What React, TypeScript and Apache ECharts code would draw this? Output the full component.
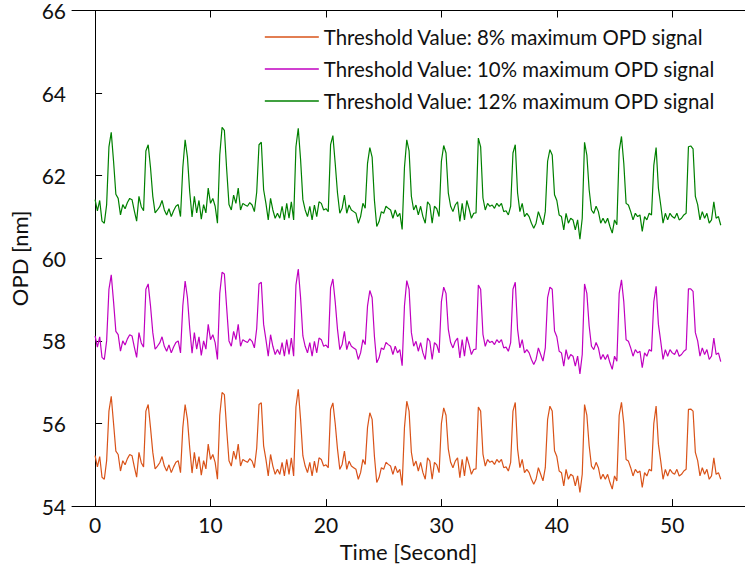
import React, { useEffect, useRef } from "react";
import * as echarts from "echarts";

const TIME_START = 0;
const TIME_STEP = 0.2;

const X_TICKS = [0, 10, 20, 30, 40, 50];
const Y_TICKS = [54, 56, 58, 60, 62, 64, 66];

const SERIES_NAMES = [
  "Threshold Value: 8% maximum OPD signal",
  "Threshold Value: 10% maximum OPD signal",
  "Threshold Value: 12% maximum OPD signal",
];
const COLORS = ["#D95319", "#C000C0", "#008000"];

const OPD_8 = [
  55.22, 54.95, 55.2, 54.7, 54.65,
  55.1, 56.3, 56.66, 56.0, 55.33,
  55.25, 54.85, 55.1, 55.0, 55.15,
  55.25, 55.22, 54.95, 54.7, 55.3,
  55.05, 54.95, 56.3, 56.46, 55.9,
  55.3, 54.9, 54.97, 55.05, 55.2,
  54.97, 54.85, 55.0, 54.81, 54.95,
  55.06, 55.1, 54.81, 55.9, 56.46,
  56.1, 55.4, 54.8, 55.3, 54.9,
  55.2, 54.75, 55.1, 54.9, 55.5,
  55.13, 55.25, 55.06, 54.65, 56.2,
  56.75, 56.7, 55.85, 55.1, 54.97,
  55.33, 55.13, 55.5, 54.97, 55.13,
  55.09, 55.06, 55.15, 55.09, 54.93,
  55.4, 56.46, 56.5, 55.46, 55.13,
  54.73, 55.25, 54.97, 54.77, 54.89,
  54.77, 55.06, 54.73, 55.13, 54.77,
  55.17, 54.73, 56.4, 56.83, 56.1,
  55.22, 54.97, 54.81, 55.06, 54.73,
  55.09, 54.81, 55.17, 55.13, 54.97,
  55.0, 54.93, 56.34, 56.5, 56.0,
  55.38, 54.89, 55.01, 55.33, 54.89,
  55.09, 54.97, 54.93, 54.89, 54.65,
  54.81, 55.13, 55.01, 55.9, 56.26,
  56.1, 55.2, 54.57, 54.69, 54.93,
  54.89, 55.06, 55.01, 54.97, 54.77,
  54.97, 54.81, 54.89, 54.5, 55.9,
  56.54, 56.3, 55.3, 54.97, 55.09,
  54.85, 55.06, 54.81, 54.65, 55.17,
  55.09, 54.65, 55.06, 55.0, 54.81,
  56.0, 56.38, 56.2, 55.38, 55.06,
  54.93, 55.09, 55.17, 54.69, 55.13,
  54.73, 55.2, 55.0, 54.77, 54.89,
  54.9, 56.4, 56.3, 55.26, 54.97,
  55.13, 55.06, 55.09, 55.01, 55.13,
  55.06, 55.13, 54.93, 54.95, 54.85,
  55.06, 56.3, 56.51, 55.38, 54.93,
  55.13, 54.81, 54.89, 54.81, 54.65,
  54.53, 54.65, 54.93, 54.77, 54.61,
  54.93, 56.1, 56.42, 56.3, 55.34,
  55.2, 54.85, 54.81, 54.49, 54.89,
  54.65, 54.77, 54.73, 54.49, 54.73,
  54.33, 54.77, 56.46, 56.2, 55.46,
  54.97, 54.89, 55.06, 54.93, 54.65,
  54.77, 54.65, 54.77, 54.57, 54.41,
  54.73, 54.61, 56.2, 56.51, 56.0,
  55.13, 55.09, 54.93, 54.73, 54.89,
  54.81, 54.85, 54.45, 54.81, 54.73,
  54.89, 54.85, 56.0, 56.42, 55.5,
  55.09, 54.65, 54.89, 54.73, 54.89,
  54.81, 54.77, 54.89, 54.73, 54.77,
  54.85, 54.89, 56.34, 56.35, 56.3,
  55.3, 55.1, 54.73, 54.93, 54.77,
  54.89, 54.65, 54.73, 55.17, 54.77,
  54.81, 54.65,
];

const OPD_10 = [
  58.12, 57.85, 58.1, 57.6, 57.55,
  58.0, 59.25, 59.6, 58.95, 58.23,
  58.15, 57.75, 58.0, 57.9, 58.05,
  58.15, 58.12, 57.85, 57.6, 58.2,
  57.95, 57.85, 59.25, 59.38, 58.85,
  58.2, 57.8, 57.87, 57.95, 58.1,
  57.87, 57.75, 57.9, 57.71, 57.85,
  57.96, 58.0, 57.71, 58.85, 59.45,
  59.05, 58.3, 57.7, 58.2, 57.8,
  58.1, 57.65, 58.0, 57.8, 58.4,
  58.03, 58.15, 57.96, 57.55, 59.15,
  59.66, 59.62, 58.8, 58.0, 57.87,
  58.23, 58.03, 58.4, 57.87, 58.03,
  57.99, 57.96, 58.05, 57.99, 57.83,
  58.3, 59.38, 59.42, 58.4, 58.03,
  57.63, 58.15, 57.87, 57.67, 57.79,
  57.67, 57.96, 57.63, 58.03, 57.67,
  58.07, 57.63, 59.35, 59.74, 59.05,
  58.12, 57.87, 57.71, 57.96, 57.63,
  57.99, 57.71, 58.07, 58.03, 57.87,
  57.9, 57.83, 59.29, 59.5, 58.95,
  58.28, 57.79, 57.91, 58.23, 57.79,
  57.99, 57.87, 57.83, 57.79, 57.55,
  57.71, 58.03, 57.91, 58.85, 59.22,
  59.05, 58.1, 57.47, 57.59, 57.83,
  57.79, 57.96, 57.91, 57.87, 57.67,
  57.87, 57.71, 57.79, 57.4, 58.85,
  59.46, 59.25, 58.2, 57.87, 57.99,
  57.75, 57.96, 57.71, 57.55, 58.07,
  57.99, 57.55, 57.96, 57.9, 57.71,
  58.95, 59.3, 59.15, 58.28, 57.96,
  57.83, 57.99, 58.07, 57.59, 58.03,
  57.63, 58.1, 57.9, 57.67, 57.79,
  57.8, 59.35, 59.25, 58.16, 57.87,
  58.03, 57.96, 57.99, 57.91, 58.03,
  57.96, 58.03, 57.83, 57.85, 57.75,
  57.96, 59.25, 59.42, 58.28, 57.83,
  58.03, 57.71, 57.79, 57.71, 57.55,
  57.43, 57.55, 57.83, 57.67, 57.51,
  57.83, 59.05, 59.3, 59.25, 58.24,
  58.1, 57.75, 57.71, 57.39, 57.79,
  57.55, 57.67, 57.63, 57.39, 57.63,
  57.2, 57.67, 59.38, 59.15, 58.36,
  57.87, 57.79, 57.96, 57.83, 57.55,
  57.67, 57.55, 57.67, 57.47, 57.31,
  57.63, 57.51, 59.15, 59.48, 58.95,
  58.03, 57.99, 57.83, 57.63, 57.79,
  57.71, 57.75, 57.35, 57.71, 57.63,
  57.79, 57.75, 58.95, 59.32, 58.4,
  57.99, 57.55, 57.79, 57.63, 57.79,
  57.71, 57.67, 57.79, 57.63, 57.67,
  57.75, 57.79, 59.26, 59.26, 59.2,
  58.2, 58.0, 57.63, 57.83, 57.67,
  57.79, 57.55, 57.63, 58.07, 57.67,
  57.71, 57.5,
];

const OPD_12 = [
  61.42, 61.15, 61.4, 60.9, 60.85,
  61.3, 62.7, 63.05, 62.35, 61.55,
  61.45, 61.05, 61.3, 61.2, 61.35,
  61.45, 61.42, 61.15, 60.9, 61.5,
  61.25, 61.15, 62.6, 62.75, 62.2,
  61.5, 61.1, 61.17, 61.25, 61.4,
  61.17, 61.05, 61.2, 61.01, 61.15,
  61.26, 61.3, 61.01, 62.2, 62.87,
  62.45, 61.6, 61.0, 61.5, 61.1,
  61.4, 60.95, 61.3, 61.1, 61.7,
  61.33, 61.45, 61.26, 60.85, 62.5,
  63.17, 63.1, 62.15, 61.3, 61.17,
  61.53, 61.33, 61.7, 61.17, 61.33,
  61.29, 61.26, 61.35, 61.29, 61.13,
  61.6, 62.75, 62.81, 61.66, 61.33,
  60.93, 61.45, 61.17, 60.97, 61.09,
  60.97, 61.26, 60.93, 61.33, 60.97,
  61.37, 60.93, 62.7, 63.15, 62.4,
  61.42, 61.17, 61.01, 61.26, 60.93,
  61.29, 61.01, 61.37, 61.33, 61.17,
  61.2, 61.13, 62.75, 62.97, 62.3,
  61.58, 61.09, 61.21, 61.53, 61.09,
  61.29, 61.17, 61.13, 61.09, 60.85,
  61.01, 61.33, 61.21, 62.3, 62.68,
  62.45, 61.4, 60.77, 60.89, 61.13,
  61.09, 61.26, 61.21, 61.17, 60.97,
  61.17, 61.01, 61.09, 60.7, 62.2,
  62.87, 62.6, 61.5, 61.17, 61.29,
  61.05, 61.26, 61.01, 60.85, 61.37,
  61.29, 60.85, 61.26, 61.2, 61.01,
  62.35, 62.73, 62.55, 61.58, 61.26,
  61.13, 61.29, 61.37, 60.89, 61.33,
  60.93, 61.4, 61.2, 60.97, 61.09,
  61.1, 62.91, 62.7, 61.46, 61.17,
  61.33, 61.26, 61.29, 61.21, 61.33,
  61.26, 61.33, 61.13, 61.15, 61.05,
  61.26, 62.55, 62.75, 61.58, 61.13,
  61.33, 61.01, 61.09, 61.01, 60.85,
  60.73, 60.85, 61.13, 60.97, 60.81,
  61.13, 62.35, 62.63, 62.5, 61.54,
  61.4, 61.05, 61.01, 60.69, 61.09,
  60.85, 60.97, 60.93, 60.69, 60.93,
  60.46, 60.97, 62.81, 62.5, 61.66,
  61.17, 61.09, 61.26, 61.13, 60.85,
  60.97, 60.85, 60.97, 60.77, 60.61,
  60.93, 60.81, 62.6, 62.95, 62.3,
  61.33, 61.29, 61.13, 60.93, 61.09,
  61.01, 61.05, 60.65, 61.01, 60.93,
  61.09, 61.05, 62.25, 62.68, 61.7,
  61.29, 60.85, 61.09, 60.93, 61.09,
  61.01, 60.97, 61.09, 60.93, 60.97,
  61.05, 61.09, 62.7, 62.72, 62.65,
  61.5, 61.3, 60.93, 61.13, 60.97,
  61.09, 60.85, 60.93, 61.37, 60.97,
  61.01, 60.8,
];

const FONT = "Lato, 'Liberation Sans', sans-serif";
const TEXT_COLOR = "#111";

function toPoints(values: number[]) {
  return values.map((v, i) => [TIME_START + i * TIME_STEP, v]);
}

export default function App() {
  const ref = useRef<HTMLDivElement>(null);

  useEffect(() => {
    if (!ref.current) return;
    const chart = echarts.init(ref.current, undefined, { renderer: "svg" });
    const allSeries = [OPD_8, OPD_10, OPD_12];
    const axisLineStyle = { color: "#000", width: 1 };
    chart.setOption({
      animation: false,
      backgroundColor: "#fff",
      textStyle: { fontFamily: FONT },
      grid: { left: 72, right: 0, top: 8, bottom: 60, containLabel: false },
      legend: {
        orient: "vertical",
        right: 25,
        top: 21,
        itemWidth: 54,
        itemHeight: 14,
        itemGap: 10,
        icon: "path://M0,7 L54,7 L54,8.5 L0,8.5 Z",
        textStyle: { fontFamily: FONT, fontSize: 20.4, color: TEXT_COLOR, lineHeight: 22 },
        data: SERIES_NAMES,
      },
      xAxis: [
        {
          type: "value",
          min: -2,
          max: 56.3,
          name: "Time [Second]",
          nameLocation: "middle",
          nameGap: 33,
          nameTextStyle: { fontFamily: FONT, fontSize: 22, color: TEXT_COLOR },
          axisLine: { show: true, lineStyle: axisLineStyle },
          axisTick: {
            show: true,
            inside: true,
            length: 7,
            customValues: X_TICKS,
            lineStyle: axisLineStyle,
          },
          axisLabel: {
            customValues: X_TICKS,
            fontFamily: FONT,
            fontSize: 21,
            color: TEXT_COLOR,
            margin: 8,
          },
          splitLine: { show: false },
        },
        {
          type: "value",
          position: "top",
          min: -2,
          max: 56.3,
          axisLine: { show: true, onZero: false, lineStyle: axisLineStyle },
          axisTick: {
            show: true,
            inside: true,
            length: 7,
            customValues: X_TICKS,
            lineStyle: axisLineStyle,
          },
          axisLabel: { show: false },
          splitLine: { show: false },
        },
      ],
      yAxis: {
        type: "value",
        min: Y_TICKS[0],
        max: Y_TICKS[Y_TICKS.length - 1],
        interval: 2,
        name: "OPD [nm]",
        nameLocation: "middle",
        nameGap: 40,
        nameTextStyle: { fontFamily: FONT, fontSize: 22, color: TEXT_COLOR },
        axisLine: { show: true, lineStyle: axisLineStyle },
        axisTick: { show: true, inside: true, length: 7, lineStyle: axisLineStyle },
        axisLabel: { fontFamily: FONT, fontSize: 21, color: TEXT_COLOR, margin: 6 },
        splitLine: { show: false },
      },
      series: allSeries.map((vals, k) => ({
        name: SERIES_NAMES[k],
        type: "line",
        xAxisIndex: 0,
        data: toPoints(vals),
        showSymbol: false,
        symbol: "none",
        lineStyle: { color: COLORS[k], width: 1.2 },
        itemStyle: { color: COLORS[k] },
        clip: true,
      })),
    });
    return () => chart.dispose();
  }, []);

  return (
    <div
      ref={ref}
      style={{ position: "fixed", left: 0, top: 0, width: 745, height: 567 }}
    />
  );
}
